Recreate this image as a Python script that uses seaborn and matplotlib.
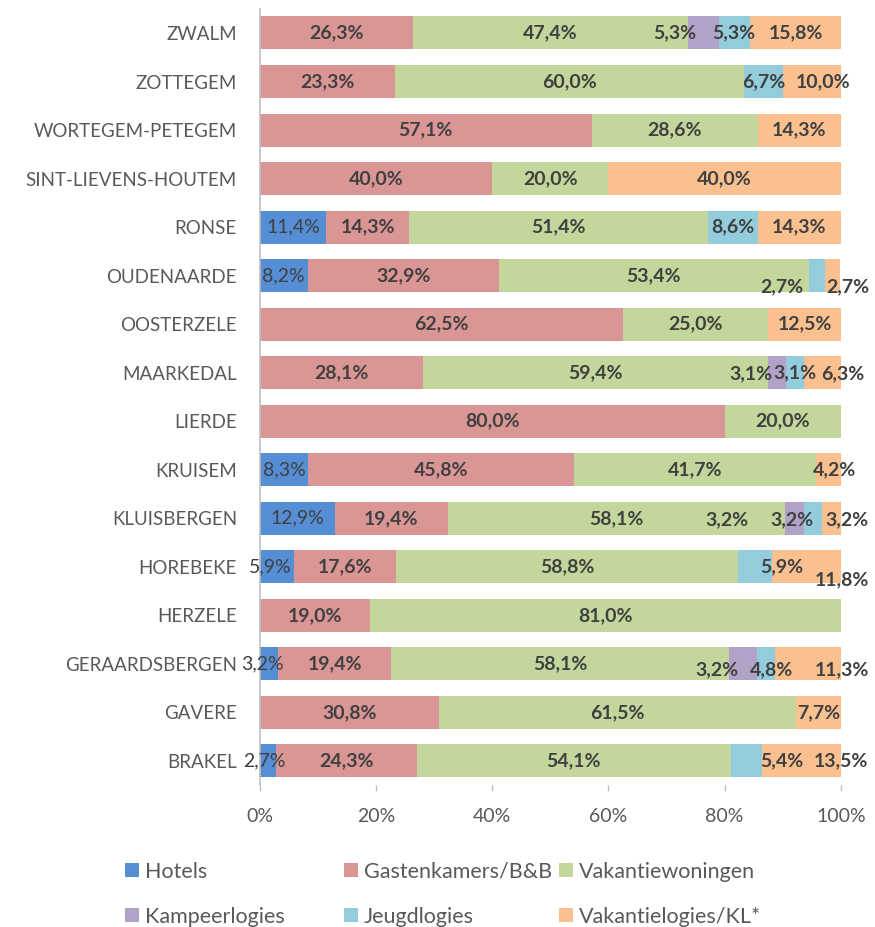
import matplotlib
matplotlib.use('Agg')

import matplotlib.pyplot as plt
from matplotlib.patches import Patch
import seaborn as sns
import numpy as np
import pandas as pd

gemeenten = ['ZWALM', 'ZOTTEGEM', 'WORTEGEM-PETEGEM', 'SINT-LIEVENS-HOUTEM', 'RONSE',
             'OUDENAARDE', 'OOSTERZELE', 'MAARKEDAL', 'LIERDE', 'KRUISEM',
             'KLUISBERGEN', 'HOREBEKE', 'HERZELE', 'GERAARDSBERGEN', 'GAVERE', 'BRAKEL']

hotels = [0, 0, 0, 0, 11.4, 8.2, 0, 0, 0, 8.3, 12.9, 5.9, 0, 3.2, 0, 2.7]
gastenkamers = [26.3, 23.3, 57.1, 40.0, 14.3, 32.9, 62.5, 28.1, 80.0, 45.8, 19.4, 17.6, 19.0, 19.4, 30.8, 24.3]
vakantiewoningen = [47.4, 60.0, 28.6, 20.0, 51.4, 53.4, 25.0, 59.4, 20.0, 41.7, 58.1, 58.8, 81.0, 58.1, 61.5, 54.1]
kampeerlogies = [5.3, 0, 0, 0, 0, 0, 0, 3.1, 0, 0, 3.2, 0, 0, 4.8, 0, 0]
jeugdlogies = [5.3, 6.7, 0, 0, 8.6, 2.7, 0, 3.1, 0, 0, 3.2, 5.9, 0, 3.2, 0, 5.4]
vakantielogies = [15.8, 10.0, 14.3, 40.0, 14.3, 2.7, 12.5, 6.3, 0, 4.2, 3.2, 11.8, 0, 11.3, 7.7, 13.5]

reeksen = ['Hotels', 'Gastenkamers/B&B', 'Vakantiewoningen', 'Kampeerlogies', 'Jeugdlogies', 'Vakantielogies/KL*']
kleuren = ['#558ED5', '#D99694', '#C3D69B', '#B3A2C7', '#93CDDD', '#FAC090']

# verschuiving van enkele labels (x in %, y in rijen), zoals in Excel
label_shift = {
    ('ZWALM', 'Kampeerlogies'): (-5, 0),
    ('ZOTTEGEM', 'Vakantielogies/KL*'): (2, 0),
    ('OUDENAARDE', 'Jeugdlogies'): (-6, 0.22),
    ('OUDENAARDE', 'Vakantielogies/KL*'): (2.6, 0.22),
    ('MAARKEDAL', 'Kampeerlogies'): (-4.6, 0.03),
    ('MAARKEDAL', 'Vakantielogies/KL*'): (3.5, 0.03),
    ('KRUISEM', 'Vakantielogies/KL*'): (1, 0),
    ('KLUISBERGEN', 'Kampeerlogies'): (-11.6, 0.03),
    ('KLUISBERGEN', 'Jeugdlogies'): (-3.6, 0.03),
    ('KLUISBERGEN', 'Vakantielogies/KL*'): (2.6, 0.03),
    ('HOREBEKE', 'Hotels'): (-1.2, 0),
    ('HOREBEKE', 'Jeugdlogies'): (4.5, 0),
    ('HOREBEKE', 'Vakantielogies/KL*'): (6, 0.27),
    ('GERAARDSBERGEN', 'Hotels'): (-1.2, 0),
    ('GERAARDSBERGEN', 'Kampeerlogies'): (5, 0.12),
    ('GERAARDSBERGEN', 'Jeugdlogies'): (-8.4, 0.12),
    ('GERAARDSBERGEN', 'Vakantielogies/KL*'): (5.8, 0.12),
    ('BRAKEL', 'Hotels'): (-0.5, 0),
    ('BRAKEL', 'Jeugdlogies'): (6, 0),
    ('BRAKEL', 'Vakantielogies/KL*'): (6.8, 0),
}

df = pd.DataFrame({'gemeente': gemeenten, 'Hotels': hotels, 'Gastenkamers/B&B': gastenkamers,
                   'Vakantiewoningen': vakantiewoningen, 'Kampeerlogies': kampeerlogies,
                   'Jeugdlogies': jeugdlogies, 'Vakantielogies/KL*': vakantielogies})
cum = df[reeksen].cumsum(axis=1)

sns.set_style('white')
plt.rcParams['font.family'] = ['Lato', 'DejaVu Sans']

fig = plt.figure(figsize=(8.75, 9.27), dpi=100)
ax = fig.add_axes([0.297, 0.153, 0.664, 0.8376])

# gestapeld: eerst de volledige som, dan telkens kleiner erover
for reeks, kleur in reversed(list(zip(reeksen, kleuren))):
    sns.barplot(x=cum[reeks].clip(upper=100), y=df['gemeente'], color=kleur, orient='h',
                width=0.68, ax=ax, saturation=1, linewidth=0)

ax.set_xlim(0, 100)
ax.set_ylim(15.5, -0.5)
ax.set_xticks(np.arange(0, 101, 20))
ax.set_xticklabels([f'{v}%' for v in range(0, 101, 20)])
ax.set_xlabel('')
ax.set_ylabel('')
for s in ['top', 'right', 'bottom']:
    ax.spines[s].set_visible(False)
ax.spines['left'].set_color('#BFBFBF')
ax.spines['left'].set_linewidth(1.2)
ax.tick_params(axis='x', bottom=True, length=4.5, width=1, color='#BFBFBF', pad=12,
               labelsize=14, labelcolor='#595959')
ax.tick_params(axis='y', left=False, pad=13, labelsize=13.5, labelcolor='#595959')

# datalabels
for i, g in enumerate(gemeenten):
    for reeks in reeksen:
        v = df.loc[i, reeks]
        if v <= 0:
            continue
        xc = cum.loc[i, reeks] - v / 2
        dx, dy = label_shift.get((g, reeks), (0, 0))
        tekst = f'{v:.1f}'.replace('.', ',') + '%'
        ax.text(xc + dx, i + dy, tekst, ha='center', va='center', fontsize=14,
                color='#404040', fontweight='normal' if reeks == 'Hotels' else 'bold',
                clip_on=False)

# legende in drie kolommen
handles = [Patch(facecolor=k, edgecolor='none', label=r) for r, k in zip(reeksen, kleuren)]
for kol, xpos in enumerate([0.131, 0.381, 0.626]):
    fig.legend(handles=[handles[kol], handles[kol + 3]], loc='upper left',
               bbox_to_anchor=(xpos, 0.082), frameon=False, fontsize=15.5,
               handlelength=0.65, handleheight=0.65, handletextpad=0.28,
               labelspacing=1.15, borderpad=0, labelcolor='#595959')

fig.savefig('out.png', dpi=100)
